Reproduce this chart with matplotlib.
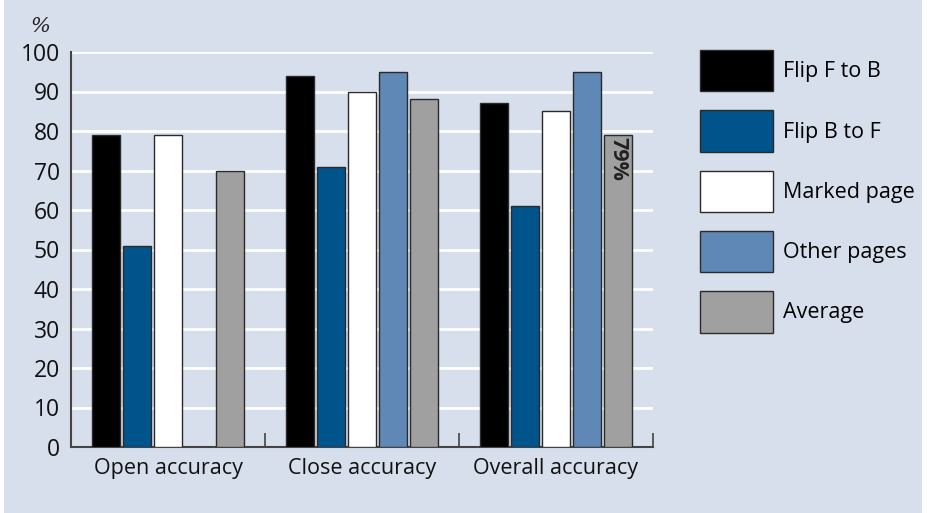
import numpy as np
import matplotlib.pyplot as plt
from matplotlib.patches import Rectangle

plt.rcParams['font.family'] = ['Open Sans', 'DejaVu Sans']

groups = ["Open accuracy", "Close accuracy", "Overall accuracy"]
series = ["Flip F to B", "Flip B to F", "Marked page", "Other pages", "Average"]
flip_f_to_b = [79, 94, 87]
flip_b_to_f = [51, 71, 61]
marked_page = [79, 90, 85]
other_pages = [np.nan, 95, 95]
average = [70, 88, 79]
colors = ["#000000", "#00548c", "#ffffff", "#5f88b7", "#a0a0a0"]

bg = "#d8dfec"
fs = 15.5
fig = plt.figure(figsize=(9.28, 5.13), dpi=100)
fig.patches.append(Rectangle((4 / 928, 0), 918 / 928, 1, transform=fig.transFigure,
                             facecolor=bg, edgecolor="none", zorder=-10))

ax = fig.add_axes([71 / 928, 66 / 513, 582 / 928, 395 / 513])
ax.patch.set_alpha(0)

data = [flip_f_to_b, flip_b_to_f, marked_page, other_pages, average]
x = np.arange(len(groups)) + 0.5
step = 0.16
width = 0.148
for i, (vals, name, c) in enumerate(zip(data, series, colors)):
    ax.bar(x + (i - 2) * step, vals, width, color=c, edgecolor="#2a2a2a",
           linewidth=1.0, label=name, zorder=3)

# label on the overall average bar
ax.text(x[2] + 2 * step, average[2] - 0.6, f"{average[2]}%", rotation=-90,
        ha="center", va="top", fontsize=15.5, fontweight="bold", color="#222222", zorder=4)

ax.set_xlim(0, 3)
ax.set_ylim(0, 100)
ax.set_yticks(np.arange(0, 101, 10))
for v in np.arange(10, 101, 10):
    ax.axhline(v, color="white", linewidth=2, zorder=1)
ax.tick_params(axis="y", length=0, labelsize=16.5, pad=8, labelcolor="#111111")

ax.set_xticks([1, 2, 3])
ax.set_xticklabels([])
ax.tick_params(axis="x", which="major", direction="in", length=10, width=1.2, color="#444444")
ax.set_xticks(x, minor=True)
ax.set_xticklabels(groups, minor=True)
ax.tick_params(axis="x", which="minor", length=0, labelsize=fs, pad=8, labelcolor="#111111")

for s in ["top", "right"]:
    ax.spines[s].set_visible(False)
for s in ["left", "bottom"]:
    ax.spines[s].set_color("#444444")
    ax.spines[s].set_linewidth(1.5)

fig.text(40 / 928, 1 - 26 / 513, "%", family="DejaVu Serif", style="italic",
         fontsize=15, color="#222222", ha="center", va="center")

ax.legend(loc="upper left", bbox_to_anchor=(700 / 928, 1 - 50 / 513),
          bbox_transform=fig.transFigure, frameon=False, borderpad=0,
          borderaxespad=0, fontsize=fs, handlelength=3.4, handleheight=2.58,
          labelspacing=0.88, handletextpad=0.47)

fig.savefig("out.png", dpi=100, facecolor="white")
